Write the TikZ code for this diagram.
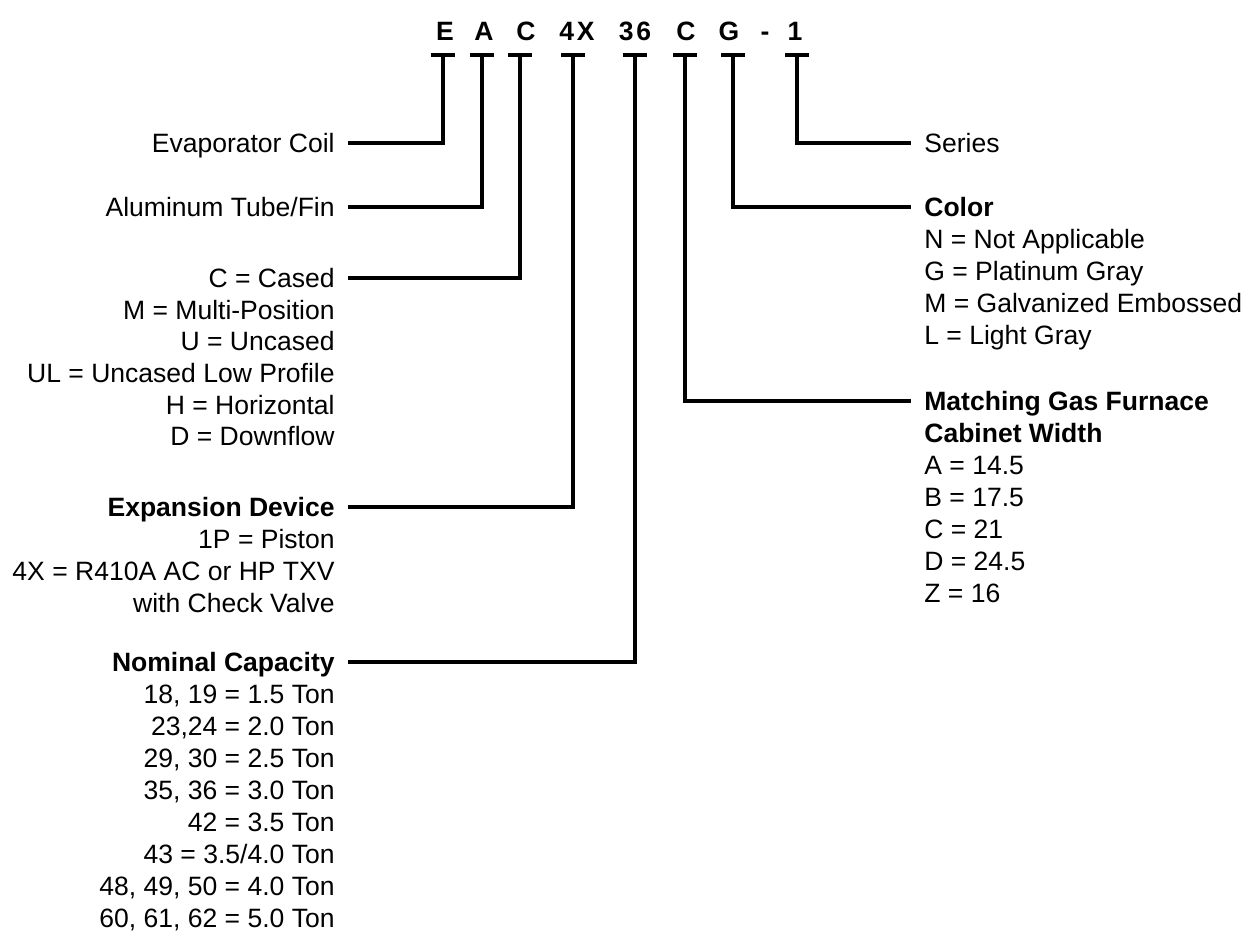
\documentclass[tikz,border=0pt]{standalone}
\usepackage{fontspec}
\setmainfont{Liberation Sans}
\usetikzlibrary{calc, positioning}

\begin{document}
\begin{tikzpicture}[x=0.02cm, y=-0.02cm,
  lead/.style={line width=2.6pt},
  codeletter/.style={font=\fontsize{15.1}{18}\selectfont\bfseries, anchor=base, inner sep=0pt},
  leftlabel/.style={font=\fontsize{15.1}{18}\selectfont, anchor=east, inner xsep=0.26cm, inner ysep=0pt, text height=10.8pt, text depth=0pt},
  rightlabel/.style={leftlabel, anchor=west},
  heading/.style={font=\fontsize{15.1}{18}\selectfont\bfseries}]
\useasboundingbox (0,0) rectangle (1257,951);

% model number
\foreach \n/\x/\t in {E/445/E, A/484/A, C/526/C, X/577/4\kern1.5pt X, N/635/3\kern1.5pt 6, W/686/C, G/729/G, D/765/-, S/795/1}
  \node[codeletter] (c\n) at (\x,40) {\t};
\foreach \n/\x in {E/443, A/482, C/520, X/573, N/635, W/685, G/733, S/797} {
  \coordinate (t\n) at (\x,55);
  \draw[lead] ($(t\n)+(-12,0)$) -- ($(t\n)+(12,0)$);
}

% left side
\node[leftlabel] (coil) at (348,143) {Evaporator Coil};
\node[leftlabel] (tubefin) at (348,207) {Aluminum Tube/Fin};
\node[leftlabel] (cased) at (348,278) {C = Cased};
\foreach \t [count=\i] in {M = Multi-Position, U = Uncased, UL = Uncased Low Profile, H = Horizontal, D = Downflow}
  \node[leftlabel] (cased-\i) at (348,{278+31.7*\i}) {\t};
\node[leftlabel, heading] (expansion) at (348,507) {Expansion Device};
\foreach \t [count=\i] in {1P = Piston, 4X = R410A AC or HP TXV, with Check Valve}
  \node[leftlabel] (expansion-\i) at (348,{507+32*\i}) {\t};
\node[leftlabel, heading] (capacity) at (348,662) {Nominal Capacity};
\foreach \t [count=\i] in {{18, 19 = 1.5 Ton}, {23,24 = 2.0 Ton}, {29, 30 = 2.5 Ton}, {35, 36 = 3.0 Ton}, 42 = 3.5 Ton, 43 = 3.5/4.0 Ton, {48, 49, 50 = 4.0 Ton}, {60, 61, 62 = 5.0 Ton}}
  \node[leftlabel] (capacity-\i) at (348,{662+32*\i}) {\t};

% right side
\node[rightlabel] (series) at (911,143) {Series};
\node[rightlabel, heading] (color) at (911,207) {Color};
\foreach \t [count=\i] in {N = Not Applicable, G = Platinum Gray, M = Galvanized Embossed, L = Light Gray}
  \node[rightlabel] (color-\i) at (911,{207+32*\i}) {\t};
\node[rightlabel, heading] (furnace) at (911,401) {Matching Gas Furnace};
\node[rightlabel, heading] (cabinet) at (911,433) {Cabinet Width};
\foreach \t [count=\i] in {A = 14.5, B = 17.5, C = 21, D = 24.5, Z = 16}
  \node[rightlabel] (furnace-\i) at (911,{433+32*\i}) {\t};

% leads
\draw[lead] (tE) |- (coil.east);
\draw[lead] (tA) |- (tubefin.east);
\draw[lead] (tC) |- (cased.east);
\draw[lead] (tX) |- (expansion.east);
\draw[lead] (tN) |- (capacity.east);
\draw[lead] (tS) |- (series.west);
\draw[lead] (tG) |- (color.west);
\draw[lead] (tW) |- (furnace.west);
\end{tikzpicture}
\end{document}
